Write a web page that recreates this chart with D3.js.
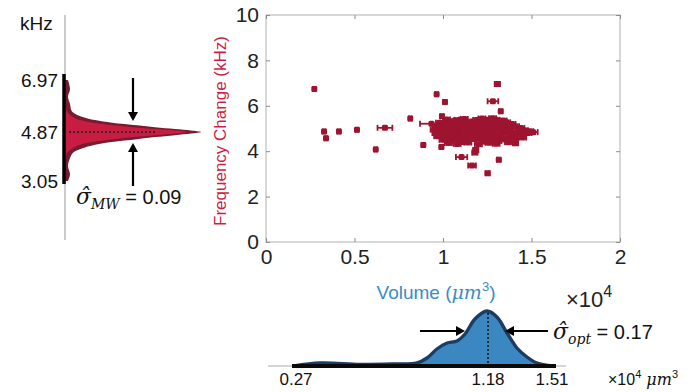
<!DOCTYPE html>
<html>
<head>
<meta charset="utf-8">
<script src="https://cdn.jsdelivr.net/npm/d3@7"></script>
<style>
  body { margin: 0; background: #fff; }
  svg { display: block; font-family: "Liberation Sans", Arial, sans-serif; }
</style>
</head>
<body>
<svg id="chart" width="699" height="392"></svg>
<script>
// main scatter ticks
const xTicks = [0, 0.5, 1, 1.5, 2];
const yTicks = [0, 2, 4, 6, 8, 10];

// [volume (x1e4 um^3), frequency change (kHz), volume error, frequency error]
const points = [
  [0.273, 6.74, 0.008, 0.05], [0.328, 4.87, 0.008, 0.05], [0.339, 4.57, 0.008, 0.05],
  [0.412, 4.87, 0.008, 0.05], [0.514, 4.94, 0.008, 0.05], [0.620, 4.08, 0.008, 0.05],
  [0.672, 5.03, 0.042, 0.05], [0.815, 5.44, 0.008, 0.05], [0.889, 4.27, 0.010, 0.05],
  [0.964, 6.51, 0.008, 0.05], [1.011, 6.17, 0.010, 0.05], [0.994, 5.54, 0.010, 0.05],
  [0.991, 4.19, 0.010, 0.05], [1.307, 6.96, 0.015, 0.05], [1.282, 6.20, 0.030, 0.05],
  [1.326, 5.76, 0.010, 0.05], [1.315, 3.62, 0.010, 0.05], [1.252, 3.03, 0.012, 0.05],
  [1.164, 3.37, 0.022, 0.05], [1.105, 3.74, 0.032, 0.05], [1.180, 3.94, 0.015, 0.05],
  [1.185, 4.05, 0.015, 0.05], [0.935, 5.21, 0.065, 0.05], [1.096, 5.38, 0.030, 0.05],
  [1.510, 4.84, 0.025, 0.05], [1.410, 4.35, 0.015, 0.05], [1.450, 4.60, 0.020, 0.05],
  // dense cluster
  [1.02, 5.40, 0.02, 0.06], [1.08, 5.36, 0.02, 0.06], [1.12, 5.42, 0.02, 0.06],
  [1.19, 5.37, 0.02, 0.06], [1.22, 5.44, 0.02, 0.06], [1.25, 5.39, 0.02, 0.06],
  [1.28, 5.45, 0.02, 0.06], [1.30, 5.38, 0.02, 0.06], [1.34, 5.35, 0.02, 0.06],
  [1.05, 5.32, 0.02, 0.06], [1.16, 5.31, 0.02, 0.06], [1.26, 5.33, 0.02, 0.06],
  [0.98, 5.25, 0.02, 0.06], [1.04, 5.22, 0.02, 0.06], [1.10, 5.28, 0.02, 0.06],
  [1.15, 5.21, 0.02, 0.06], [1.20, 5.27, 0.02, 0.06], [1.24, 5.23, 0.02, 0.06],
  [1.27, 5.30, 0.02, 0.06], [1.31, 5.24, 0.02, 0.06], [1.36, 5.27, 0.02, 0.06],
  [1.39, 5.20, 0.02, 0.06], [1.01, 5.17, 0.02, 0.06], [1.08, 5.18, 0.02, 0.06],
  [1.18, 5.16, 0.02, 0.06], [1.33, 5.18, 0.02, 0.06], [0.96, 5.10, 0.02, 0.06],
  [1.00, 5.06, 0.02, 0.06], [1.03, 5.13, 0.02, 0.06], [1.07, 5.08, 0.02, 0.06],
  [1.12, 5.14, 0.02, 0.06], [1.16, 5.05, 0.02, 0.06], [1.21, 5.11, 0.02, 0.06],
  [1.23, 5.07, 0.02, 0.06], [1.26, 5.15, 0.02, 0.06], [1.29, 5.09, 0.02, 0.06],
  [1.33, 5.12, 0.02, 0.06], [1.37, 5.06, 0.02, 0.06], [1.41, 5.10, 0.02, 0.06],
  [0.98, 5.02, 0.02, 0.06], [1.05, 5.03, 0.02, 0.06], [1.14, 5.01, 0.02, 0.06],
  [1.32, 5.03, 0.02, 0.06], [1.44, 5.02, 0.02, 0.06], [0.95, 4.95, 0.02, 0.06],
  [0.99, 4.91, 0.02, 0.06], [1.02, 4.98, 0.02, 0.06], [1.06, 4.93, 0.02, 0.06],
  [1.09, 4.99, 0.02, 0.06], [1.13, 4.90, 0.02, 0.06], [1.17, 4.96, 0.02, 0.06],
  [1.20, 4.92, 0.02, 0.06], [1.24, 4.97, 0.02, 0.06], [1.27, 4.91, 0.02, 0.06],
  [1.30, 4.99, 0.02, 0.06], [1.35, 4.94, 0.02, 0.06], [1.38, 4.90, 0.02, 0.06],
  [1.43, 4.96, 0.02, 0.06], [1.46, 4.92, 0.02, 0.06], [1.49, 4.88, 0.02, 0.06],
  [0.97, 4.86, 0.02, 0.06], [1.07, 4.87, 0.02, 0.06], [1.23, 4.87, 0.02, 0.06],
  [1.34, 4.86, 0.02, 0.06], [0.96, 4.80, 0.02, 0.06], [1.00, 4.77, 0.02, 0.06],
  [1.04, 4.84, 0.02, 0.06], [1.08, 4.78, 0.02, 0.06], [1.11, 4.83, 0.02, 0.06],
  [1.15, 4.76, 0.02, 0.06], [1.19, 4.81, 0.02, 0.06], [1.22, 4.85, 0.02, 0.06],
  [1.25, 4.78, 0.02, 0.06], [1.28, 4.82, 0.02, 0.06], [1.32, 4.76, 0.02, 0.06],
  [1.36, 4.84, 0.02, 0.06], [1.40, 4.79, 0.02, 0.06], [1.44, 4.83, 0.02, 0.06],
  [1.48, 4.80, 0.02, 0.06], [1.02, 4.72, 0.02, 0.06], [1.12, 4.71, 0.02, 0.06],
  [1.24, 4.72, 0.02, 0.06], [1.31, 4.70, 0.02, 0.06], [0.97, 4.66, 0.02, 0.06],
  [1.01, 4.62, 0.02, 0.06], [1.05, 4.68, 0.02, 0.06], [1.10, 4.63, 0.02, 0.06],
  [1.14, 4.69, 0.02, 0.06], [1.18, 4.61, 0.02, 0.06], [1.21, 4.67, 0.02, 0.06],
  [1.26, 4.64, 0.02, 0.06], [1.29, 4.70, 0.02, 0.06], [1.33, 4.62, 0.02, 0.06],
  [1.38, 4.67, 0.02, 0.06], [1.42, 4.63, 0.02, 0.06], [1.07, 4.57, 0.02, 0.06],
  [1.20, 4.56, 0.02, 0.06], [1.29, 4.58, 0.02, 0.06], [1.00, 4.50, 0.02, 0.06],
  [1.04, 4.46, 0.02, 0.06], [1.09, 4.53, 0.02, 0.06], [1.13, 4.48, 0.02, 0.06],
  [1.17, 4.54, 0.02, 0.06], [1.23, 4.47, 0.02, 0.06], [1.27, 4.52, 0.02, 0.06],
  [1.31, 4.45, 0.02, 0.06], [1.35, 4.51, 0.02, 0.06], [1.40, 4.48, 0.02, 0.06],
  [1.11, 4.41, 0.02, 0.06], [1.24, 4.42, 0.02, 0.06], [1.03, 4.36, 0.02, 0.06],
  [1.08, 4.32, 0.02, 0.06], [1.14, 4.38, 0.02, 0.06], [1.20, 4.31, 0.02, 0.06],
  [1.26, 4.37, 0.02, 0.06], [1.30, 4.33, 0.02, 0.06], [1.37, 4.39, 0.02, 0.06]
];

// left violin: frequency (kHz) and width of the density (px)
const violinFreq = [3.05, 3.3, 3.6, 3.9, 4.1, 4.25, 4.4, 4.5, 4.6, 4.68, 4.75, 4.81, 4.87,
  4.93, 4.99, 5.06, 5.14, 5.24, 5.35, 5.5, 5.7, 6.0, 6.3, 6.6, 6.97];
const violinOuter = [3, 5, 3, 5, 8, 16, 30, 47, 72, 90, 110, 126, 136, 126, 110, 90, 72, 47, 30, 16, 7, 5, 3, 5, 3];
const violinInner = [0, 0, 0, 0, 2, 7, 15, 28, 48, 68, 90, 110, 122, 110, 90, 68, 48, 28, 15, 7, 2, 0, 0, 0, 0];
const violinTicks = [3.05, 4.87, 6.97];

// bottom volume density
const densVol = [0.26, 0.384, 0.573, 0.73, 0.843, 0.891, 0.938, 0.986, 1.033, 1.071, 1.118, 1.175,
  1.226, 1.278, 1.329, 1.381, 1.433, 1.515];
const densVal = [0, 3, 1.5, 2, 3, 8, 17, 23, 25, 32, 47, 55, 49, 33, 18, 9, 3, 0];
const densTicks = [0.27, 1.18, 1.51];

const red = "#9e1430";
const svg = d3.select("#chart");

// ---------- main scatter ----------
const x = d3.scaleLinear().domain([0, 2]).range([266, 620]);
const y = d3.scaleLinear().domain([0, 10]).range([242, 15]);

svg.append("rect")
  .attr("x", x(0)).attr("y", y(10))
  .attr("width", x(2) - x(0)).attr("height", y(0) - y(10))
  .attr("fill", "none").attr("stroke", "#b0b0b0").attr("stroke-width", 1);

function styleAxis(g) {
  g.select(".domain").remove();
  g.selectAll(".tick line").attr("stroke", "#8c8c8c");
  g.selectAll(".tick text").attr("fill", "#222").style("font-size", "21px");
}

svg.append("g").attr("transform", `translate(0,${y(0)})`)
  .call(d3.axisBottom(x).tickValues(xTicks).tickSize(-4).tickPadding(6).tickFormat(d3.format("")))
  .call(styleAxis)
  .selectAll(".tick text").attr("dy", "0.78em");
svg.append("g").attr("transform", `translate(0,${y(10)})`)
  .call(d3.axisTop(x).tickValues(xTicks).tickSize(-4).tickFormat(""))
  .call(styleAxis);
svg.append("g").attr("transform", `translate(${x(0)},0)`)
  .call(d3.axisLeft(y).tickValues(yTicks).tickSize(-4).tickPadding(7))
  .call(styleAxis);
svg.append("g").attr("transform", `translate(${x(2)},0)`)
  .call(d3.axisRight(y).tickValues(yTicks).tickSize(-4).tickFormat(""))
  .call(styleAxis);

const pts = svg.append("g");
points.forEach(p => {
  const cx = x(p[0]), cy = y(p[1]);
  const x0 = x(p[0] - p[2]), x1 = x(p[0] + p[2]);
  const g = pts.append("g").attr("stroke", red).attr("stroke-width", 1.8);
  g.append("line").attr("x1", x0).attr("x2", x1).attr("y1", cy).attr("y2", cy);
  g.append("line").attr("x1", x0).attr("x2", x0).attr("y1", cy - 3).attr("y2", cy + 3);
  g.append("line").attr("x1", x1).attr("x2", x1).attr("y1", cy - 3).attr("y2", cy + 3);
  g.append("line").attr("x1", cx).attr("x2", cx).attr("y1", y(p[1] + p[3]) - 1).attr("y2", y(p[1] - p[3]) + 1);
  g.append("rect").attr("x", cx - 3).attr("y", cy - 3).attr("width", 6).attr("height", 6)
    .attr("rx", 1.5).attr("fill", red).attr("stroke", "none");
});

svg.append("text")
  .attr("transform", "translate(226,131) rotate(-90)")
  .attr("text-anchor", "middle").attr("fill", "#cc1f45").style("font-size", "17px")
  .text("Frequency Change (kHz)");

const xl = svg.append("text").attr("x", 436).attr("y", 299).attr("text-anchor", "middle")
  .attr("fill", "#3a8cc6").style("font-size", "19px");
xl.append("tspan").text("Volume (");
xl.append("tspan").attr("font-family", "DejaVu Serif").attr("font-style", "italic").text("μm");
xl.append("tspan").attr("dy", -8).style("font-size", "13px").text("3");
xl.append("tspan").attr("dy", 8).text(")");

const ex = svg.append("text").attr("x", 566).attr("y", 307).attr("fill", "#222").style("font-size", "22px");
ex.append("tspan").text("×10");
ex.append("tspan").attr("dy", -10).style("font-size", "16px").text("4");

// ---------- left violin ----------
const vy = d3.scaleLinear().domain([3.05, 4.87, 6.97]).range([181, 132, 80]);
const ax = 65;

svg.append("line").attr("x1", ax).attr("x2", ax).attr("y1", 15).attr("y2", 240)
  .attr("stroke", "#999").attr("stroke-width", 1);

const area = d3.area().curve(d3.curveCatmullRom)
  .y((d, i) => vy(violinFreq[i])).x0(ax).x1(d => ax + d);

svg.append("path").datum(violinOuter).attr("d", area)
  .attr("fill", "#7a1a2f");
svg.append("path").datum(violinInner).attr("d", area)
  .attr("fill", "#c91c42");

svg.append("line").attr("x1", ax - 1).attr("x2", ax - 1).attr("y1", vy(6.97) - 6).attr("y2", vy(3.05) + 3)
  .attr("stroke", "#000").attr("stroke-width", 3.5);

svg.append("line").attr("x1", 69).attr("x2", 157).attr("y1", vy(4.87)).attr("y2", vy(4.87))
  .attr("stroke", "#111").attr("stroke-width", 1.6).attr("stroke-dasharray", "2,2");

svg.append("text").attr("x", 20).attr("y", 30).attr("fill", "#111").style("font-size", "19px").text("kHz");
violinTicks.forEach(t => {
  svg.append("text").attr("x", 58).attr("y", vy(t)).attr("dy", "0.36em").attr("text-anchor", "end")
    .attr("fill", "#111").style("font-size", "19px").text(t.toFixed(2));
});

function arrow(x1, y1, x2, y2) {
  const a = Math.atan2(y2 - y1, x2 - x1);
  const L = 9, W = 5;
  const bx = x2 - L * Math.cos(a), by = y2 - L * Math.sin(a);
  svg.append("line").attr("x1", x1).attr("y1", y1).attr("x2", bx).attr("y2", by)
    .attr("stroke", "#000").attr("stroke-width", 2.2);
  const px = -Math.sin(a) * W, py = Math.cos(a) * W;
  svg.append("path")
    .attr("d", `M${x2},${y2}L${bx + px},${by + py}L${bx - px},${by - py}Z`).attr("fill", "#000");
}
arrow(133, 78, 133, 121);
arrow(133, 186, 133, 143);

function sigmaLabel(x0, y0, sub, value) {
  const t = svg.append("text").attr("x", x0).attr("y", y0).attr("fill", "#111");
  t.append("tspan").attr("font-family", "DejaVu Serif").attr("font-style", "italic")
    .style("font-size", "22px").text("σ\u0302");
  t.append("tspan").attr("font-family", "DejaVu Serif").attr("font-style", "italic")
    .attr("dy", 5).style("font-size", "14px").text(sub);
  t.append("tspan").attr("dy", -5).style("font-size", "20px").text(" = " + value);
}
sigmaLabel(76, 204, "MW", "0.09");

// ---------- bottom density ----------
const dx = d3.scaleLinear().domain([0.27, 1.18, 1.51]).range([296, 488, 552]);
const dy = d3.scaleLinear().domain([0, 55]).range([366, 311]);

svg.append("line").attr("x1", 268).attr("x2", 566).attr("y1", 366).attr("y2", 366)
  .attr("stroke", "#aaa").attr("stroke-width", 1);

svg.append("path").datum(densVal)
  .attr("d", d3.area().curve(d3.curveCatmullRom)
    .x((d, i) => dx(densVol[i])).y0(dy(0)).y1(d => dy(d)))
  .attr("fill", "#3b87c1").attr("stroke", "#1b3c63").attr("stroke-width", 3.4)
  .attr("stroke-linejoin", "round");

svg.append("line").attr("x1", 292).attr("x2", 556).attr("y1", 366).attr("y2", 366)
  .attr("stroke", "#0a0a0a").attr("stroke-width", 4);

svg.append("line").attr("x1", dx(1.18)).attr("x2", dx(1.18)).attr("y1", 313).attr("y2", 364)
  .attr("stroke", "#111").attr("stroke-width", 1.6).attr("stroke-dasharray", "2,2");

densTicks.forEach(t => {
  svg.append("text").attr("x", dx(t)).attr("y", 385).attr("text-anchor", "middle")
    .attr("fill", "#111").style("font-size", "17px").text(t.toFixed(2));
});

const unit = svg.append("text").attr("x", 608).attr("y", 385).attr("fill", "#111").style("font-size", "16px");
unit.append("tspan").text("×10");
unit.append("tspan").attr("dy", -7).style("font-size", "11px").text("4");
unit.append("tspan").attr("dy", 7).attr("font-family", "DejaVu Serif").attr("font-style", "italic").text(" μm");
unit.append("tspan").attr("dy", -7).style("font-size", "11px").text("3");

arrow(420, 331, 465, 331);
arrow(548, 331, 505, 331);
sigmaLabel(553, 339, "opt", "0.17");
</script>
</body>
</html>
